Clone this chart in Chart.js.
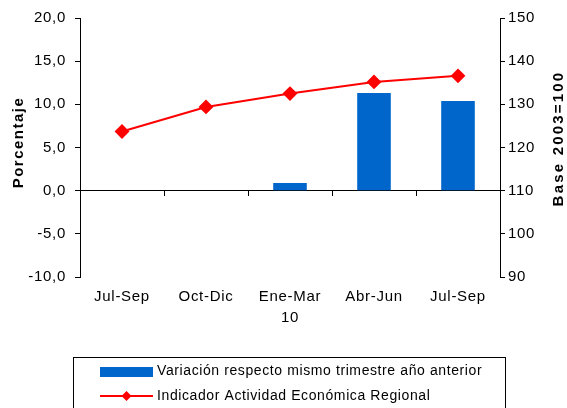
<!DOCTYPE html>
<html>
<head>
<meta charset="utf-8">
<script src="https://cdn.jsdelivr.net/npm/chart.js@4/dist/chart.umd.min.js"></script>
<style>
  html, body { margin: 0; padding: 0; background: #fff; }
  #wrap { width: 567px; height: 408px; }
</style>
</head>
<body>
<div id="wrap"><canvas id="chart" width="567" height="408"></canvas></div>
<script>
var categories = ['Jul-Sep', 'Oct-Dic', ['Ene-Mar', '10'], 'Abr-Jun', 'Jul-Sep'];
var variacion = [null, null, 0.9, 11.3, 10.4];
var indicador = [123.7, 129.4, 132.5, 135.2, 136.6];
var leftTicks = { min: -10, max: 20, step: 5 };
var rightTicks = { min: 90, max: 150, step: 10 };
var leftTitle = 'Porcentaje';
var rightTitle = 'Base 2003=100';

var fontFamily = '"Liberation Sans", Arial, sans-serif';
Chart.defaults.font.family = fontFamily;
Chart.defaults.color = '#000';

// spreadsheet-like text spacing, axis titles and legend box drawn by hand
var boxLegend = {
     id: 'boxLegend',
     beforeDraw: function(chart) {
          chart.ctx.letterSpacing = '0.7px';
     },
     afterDraw: function(chart) {
          var ctx = chart.ctx;
          var ds = chart.data.datasets;
          var area = chart.chartArea;
          var midY = (area.top + area.bottom) / 2;
          ctx.save();

          // axis titles, both read bottom to top
          ctx.fillStyle = '#000';
          ctx.font = 'bold 15px ' + fontFamily;
          ctx.textAlign = 'center';
          ctx.textBaseline = 'middle';
          ctx.save();
          ctx.letterSpacing = '1.5px';
          ctx.translate(19, midY - 5);
          ctx.rotate(-Math.PI / 2);
          ctx.fillText(leftTitle, 0, 0);
          ctx.restore();
          ctx.save();
          ctx.letterSpacing = '2.2px';
          ctx.translate(559, midY - 9);
          ctx.rotate(-Math.PI / 2);
          ctx.fillText(rightTitle, 0, 0);
          ctx.restore();

          // legend
          ctx.strokeStyle = '#000';
          ctx.lineWidth = 1;
          ctx.strokeRect(73.5, 357.5, 432, 60);

          ctx.fillStyle = ds[1].backgroundColor;
          ctx.fillRect(100, 367, 53, 10);

          ctx.strokeStyle = ds[0].borderColor;
          ctx.lineWidth = 2;
          ctx.beginPath();
          ctx.moveTo(100, 396);
          ctx.lineTo(153, 396);
          ctx.stroke();
          ctx.fillStyle = ds[0].borderColor;
          ctx.beginPath();
          ctx.moveTo(126.5, 391);
          ctx.lineTo(131.5, 396);
          ctx.lineTo(126.5, 401);
          ctx.lineTo(121.5, 396);
          ctx.closePath();
          ctx.fill();

          ctx.fillStyle = '#000';
          ctx.font = '14px ' + fontFamily;
          ctx.letterSpacing = '0.6px';
          ctx.textAlign = 'left';
          ctx.textBaseline = 'middle';
          ctx.fillText(ds[1].label, 157, 371);
          ctx.fillText(ds[0].label, 157, 396);
          ctx.restore();
     }
};

new Chart(document.getElementById('chart'), {
     type: 'bar',
     data: {
          labels: categories,
          datasets: [
               {
                    type: 'line',
                    label: 'Indicador Actividad Económica Regional',
                    data: indicador,
                    yAxisID: 'y1',
                    borderColor: '#FF0000',
                    backgroundColor: '#FF0000',
                    borderWidth: 2,
                    pointStyle: 'rectRot',
                    pointRadius: 6,
                    pointHoverRadius: 6,
                    tension: 0,
                    fill: false,
                    order: 0
               },
               {
                    type: 'bar',
                    label: 'Variación respecto mismo trimestre año anterior',
                    data: variacion,
                    yAxisID: 'y',
                    backgroundColor: '#0066CC',
                    borderWidth: 0,
                    categoryPercentage: 1,
                    barPercentage: 0.4,
                    order: 1
               }
          ]
     },
     options: {
          responsive: false,
          animation: false,
          layout: {
               autoPadding: false,
               padding: { top: 18, bottom: 131, left: 0, right: 0 }
          },
          plugins: {
               legend: { display: false },
               tooltip: { enabled: false }
          },
          scales: {
               x: {
                    position: { y: 0 },
                    grid: {
                         display: true,
                         drawOnChartArea: false,
                         drawTicks: true,
                         tickLength: 5,
                         color: '#000',
                         offset: true
                    },
                    border: { display: true, color: '#000', width: 1 },
                    ticks: {
                         padding: 91,
                         maxRotation: 0,
                         autoSkip: false,
                         font: { size: 15, lineHeight: 1.4 }
                    },
                    // labels sit far below the zero line, keep that out of the side padding
                    afterFit: function(scale) {
                         scale.paddingLeft = 0;
                         scale.paddingRight = 0;
                    }
               },
               y: {
                    position: 'left',
                    min: leftTicks.min,
                    max: leftTicks.max,
                    grid: {
                         drawOnChartArea: false,
                         tickLength: 5,
                         color: '#000'
                    },
                    border: { display: true, color: '#000', width: 1 },
                    ticks: {
                         stepSize: leftTicks.step,
                         padding: 9,
                         font: { size: 15 },
                         callback: function(v) { return v.toFixed(1).replace('.', ','); }
                    },
                    afterFit: function(scale) { scale.width = 80; }
               },
               y1: {
                    position: 'right',
                    min: rightTicks.min,
                    max: rightTicks.max,
                    grid: {
                         drawOnChartArea: false,
                         tickLength: 5,
                         color: '#000'
                    },
                    border: { display: true, color: '#000', width: 1 },
                    ticks: {
                         stepSize: rightTicks.step,
                         padding: 3,
                         font: { size: 15 }
                    },
                    afterFit: function(scale) { scale.width = 67; }
               }
          }
     },
     plugins: [boxLegend]
});
</script>
</body>
</html>
